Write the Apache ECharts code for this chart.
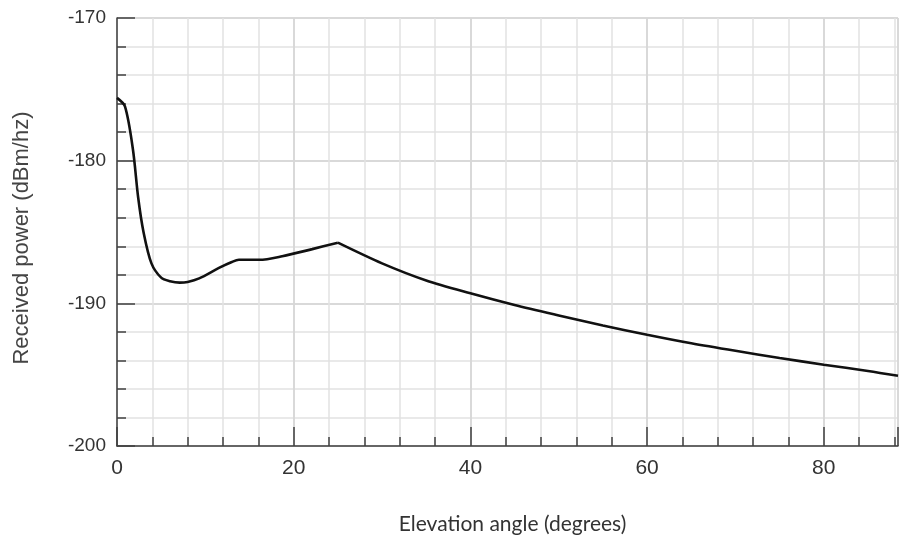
<!DOCTYPE html>
<html>
<head>
<meta charset="utf-8">
<script src="https://cdn.jsdelivr.net/npm/echarts@6/dist/echarts.min.js"></script>
<style>
  html, body { margin: 0; padding: 0; background: #fff; }
  #chart { width: 901px; height: 540px; }
</style>
</head>
<body>
<div id="chart"></div>
<script>
// elevation angle (degrees) and received power (dBm/hz)
const angles = [0, 0.9, 1.8, 2.4, 3.0, 3.9, 5.0, 6.0, 7.1, 8.0, 9.3, 11.6, 13.0, 13.8, 16.1, 18.7, 22.1, 25.0,
  30, 35, 40, 45, 50, 55, 60, 65, 70, 75, 80, 85, 88.4]
const power = [-175.6, -176.2, -179.2, -182.6, -185.0, -187.2, -188.2, -188.45, -188.55, -188.5, -188.25, -187.5, -187.1, -186.95, -186.95, -186.7, -186.2, -185.75,
  -187.2, -188.4, -189.3, -190.12, -190.85, -191.55, -192.2, -192.8, -193.33, -193.83, -194.3, -194.74, -195.08]
const xLabels = [0, 20, 40, 60, 80]
const yLabels = [-200, -190, -180, -170]
const peakIndex = 17 // sharp corner at 25 degrees

const axisColor = '#404040'
const gridColor = '#e2e2e2'
const majorGrid = '#d4d4d4'
const sansFont = 'Arial, "Liberation Sans", sans-serif'

const points = angles.map((a, i) => [a, power[i]])

const chart = echarts.init(document.getElementById('chart'))

chart.setOption({
  animation: false,
  grid: { left: 117, top: 18, right: 0, bottom: 94 },
  xAxis: [
    {
      type: 'value', min: 0, max: 88.4, interval: 4,
      name: 'Elevation angle (degrees)', nameLocation: 'middle', nameGap: 68,
      nameTextStyle: { fontFamily: 'Lato', fontSize: 21, color: '#333', padding: [0, 0, 0, 10] },
      axisLine: { show: true, lineStyle: { color: axisColor, width: 1.5 } },
      axisTick: { show: true, inside: true, length: 9, lineStyle: { color: axisColor, width: 1.5 } },
      axisLabel: { show: false },
      splitLine: { show: true, lineStyle: { color: gridColor, width: 1.5 } }
    },
    {
      type: 'value', min: 0, max: 88.4, interval: 20, position: 'bottom',
      axisLine: { show: false },
      axisTick: { show: true, inside: true, length: 19, lineStyle: { color: axisColor, width: 1.5 } },
      axisLabel: {
        show: true, margin: 12, fontFamily: sansFont, fontSize: 21, color: '#333',
        formatter: v => xLabels.includes(v) ? String(v) : ''
      },
      splitLine: { show: true, lineStyle: { color: majorGrid, width: 1.5 } }
    }
  ],
  yAxis: [
    {
      type: 'value', min: -200, max: -170, interval: 2,
      name: 'Received power (dBm/hz)', nameLocation: 'middle', nameGap: 84,
      nameTextStyle: { fontFamily: sansFont, fontSize: 22, color: '#444', padding: [0, 12, 0, 0] },
      axisLine: { show: true, lineStyle: { color: axisColor, width: 1.5 } },
      axisTick: { show: true, inside: true, length: 9, lineStyle: { color: axisColor, width: 1.5 } },
      axisLabel: { show: false },
      splitLine: { show: true, lineStyle: { color: gridColor, width: 1.5 } }
    },
    {
      type: 'value', min: -200, max: -170, interval: 10, position: 'left',
      axisLine: { show: false },
      axisTick: { show: true, inside: true, length: 18, lineStyle: { color: axisColor, width: 1.5 } },
      axisLabel: {
        show: true, margin: 11, fontFamily: sansFont, fontSize: 19, color: '#333',
        formatter: v => yLabels.includes(v) ? String(v) : ''
      },
      splitLine: { show: true, lineStyle: { color: majorGrid, width: 1.5 } }
    }
  ],
  series: [
    {
      type: 'line', xAxisIndex: 0, yAxisIndex: 0,
      data: points.slice(0, peakIndex + 1),
      showSymbol: false, smooth: 0.3,
      lineStyle: { color: '#111', width: 2.6 }, z: 5
    },
    {
      type: 'line', xAxisIndex: 0, yAxisIndex: 0,
      data: points.slice(peakIndex),
      showSymbol: false, smooth: 0.3,
      lineStyle: { color: '#111', width: 2.6 }, z: 5
    }
  ]
})
</script>
</body>
</html>
